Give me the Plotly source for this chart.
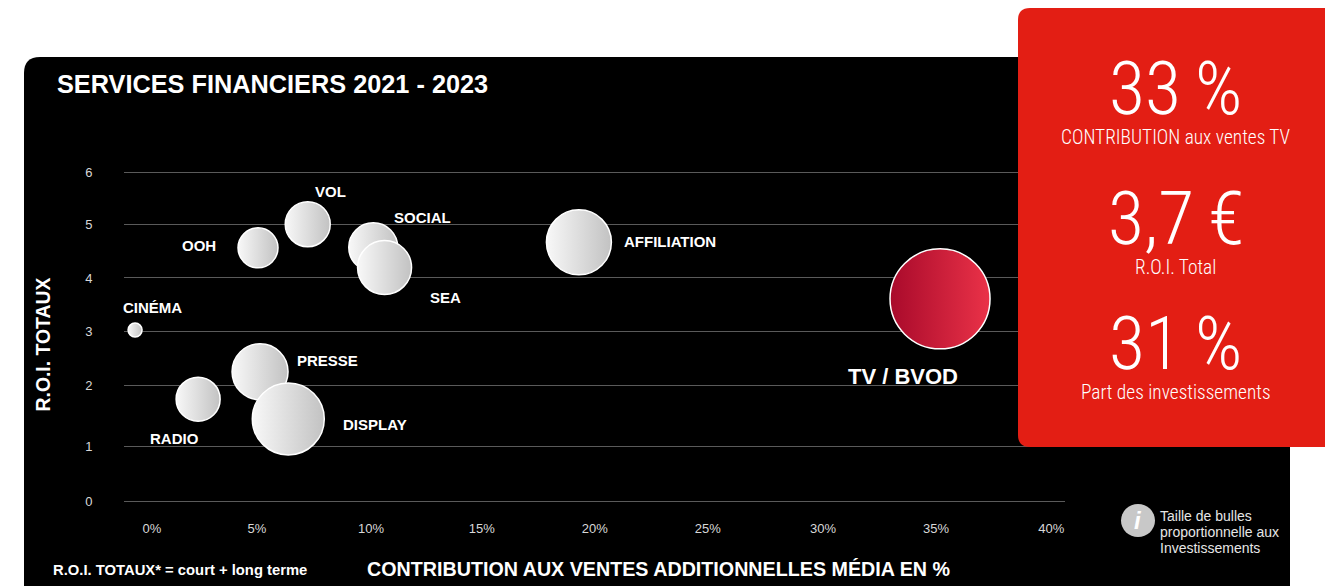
import plotly.graph_objects as go

W, H = 1325, 586

# Data
names = ["CINÉMA", "RADIO", "PRESSE", "DISPLAY", "OOH", "VOL", "SOCIAL", "SEA", "AFFILIATION", "TV / BVOD"]
contribution = [-0.44, 2.35, 5.09, 6.34, 5.0, 7.2, 10.1, 10.6, 19.2, 35.18]
roi = [3.13, 1.87, 2.37, 1.51, 4.63, 5.06, 4.64, 4.27, 4.73, 3.70]
bubble_size = [14, 44, 56, 72, 40, 45, 49, 54, 65, 100]

x_tick_pos = [0.3, 4.95, 10, 14.9, 19.9, 24.9, 30, 35, 40.1]
x_tick_text = ["0%", "5%", "10%", "15%", "20%", "25%", "30%", "35%", "40%"]
y_tick_pos = [0, 1.003, 2.128, 3.10, 4.08, 5.05, 6]
y_tick_text = ["0", "1", "2", "3", "4", "5", "6"]

kpi_big = ["33\u2009%", "3,7\u2009€", "31\u2009%"]
kpi_small = ["CONTRIBUTION aux ventes TV", "R.O.I. Total", "Part des investissements"]


def px(x):
    return x / W


def py(y):
    return 1 - y / H


def rounded(x0, y0, x1, y1, r):
    d = f"M {px(x0 + r)} {py(y0)} L {px(x1 - r)} {py(y0)} "
    d += f"Q {px(x1)} {py(y0)} {px(x1)} {py(y0 + r)} L {px(x1)} {py(y1 - r)} "
    d += f"Q {px(x1)} {py(y1)} {px(x1 - r)} {py(y1)} L {px(x0 + r)} {py(y1)} "
    d += f"Q {px(x0)} {py(y1)} {px(x0)} {py(y1 - r)} L {px(x0)} {py(y0 + r)} "
    d += f"Q {px(x0)} {py(y0)} {px(x0 + r)} {py(y0)} Z"
    return d


fig = go.Figure()
left_cols = ["#f8f8f8"] * 9 + ["#a90a2b"]
right_cols = ["#c2c2c2"] * 9 + ["#ea3248"]
fig.add_trace(go.Scatter(
    x=contribution, y=roi, mode="markers", text=names, hoverinfo="text",
    marker=dict(
        size=bubble_size, sizemode="diameter", color=left_cols,
        gradient=dict(type="horizontal", color=right_cols),
        line=dict(color="#ffffff", width=1.5), opacity=1,
    ),
    showlegend=False,
))

AR = "Liberation Sans"
NARROW = "Roboto Condensed, Roboto"


def note(text, x, y, size, color="#ffffff", bold=True, font=AR, anchor="center", angle=0, weight=None):
    f = dict(family=font, size=size, color=color)
    if weight:
        f["weight"] = weight
    fig.add_annotation(
        text=f"<b>{text}</b>" if bold else text, xref="paper", yref="paper",
        x=px(x), y=py(y), xanchor=anchor, yanchor="middle", showarrow=False, textangle=angle,
        font=f,
    )


note("SERVICES FINANCIERS 2021 - 2023", 55, 84, 25.3, anchor="left")
note("R.O.I. TOTAUX", 42, 344.5, 19.4, angle=-90)
note("CONTRIBUTION AUX VENTES ADDITIONNELLES MÉDIA EN %", 658.5, 569, 19.7)
note("R.O.I. TOTAUX* = court + long terme", 51, 570, 14.8, anchor="left")

label_xy = [(152, 307), (174, 438), (327, 360.5), (375, 424.5), (199, 245.5), (330, 191), (422, 217), (445, 297), (670, 242), (903, 376.5)]
for name, (lx, ly) in zip(names, label_xy):
    note(name, lx, ly, 22 if name.startswith("TV") else 15)

for t, y in zip(kpi_big, [88, 218, 343]):
    note(t, 1175.5, y, 74, bold=False, font=NARROW, weight=300)
for t, y in zip(kpi_small, [138, 267, 392]):
    note(t, 1175.5, y, 19.4, bold=False, font=NARROW, weight=300)

for t, y in zip(["Taille de bulles", "proportionnelle aux", "Investissements"], [516, 532, 548]):
    note(t, 1158, y, 14, bold=False, anchor="left", color="#e6e6e6")
note("<i>i</i>", 1138, 520, 24, color="#ffffff")

fig.update_layout(
    width=W, height=H, margin=dict(l=0, r=0, t=0, b=0), autosize=False,
    paper_bgcolor="#ffffff", plot_bgcolor="rgba(0,0,0,0)",
    font=dict(family=AR),
    xaxis=dict(
        domain=[px(124), px(1065)], range=[-0.93, 40.71], tickmode="array",
        tickvals=x_tick_pos, ticktext=x_tick_text, showgrid=False, zeroline=False,
        showline=False, ticks="outside", ticklen=4, tickcolor="rgba(0,0,0,0)",
        tickfont=dict(size=13, color="#d8d8d8"),
    ),
    yaxis=dict(
        domain=[py(512.67), py(161.73)], range=[-0.2, 6.2], tickmode="array",
        tickvals=y_tick_pos, ticktext=y_tick_text, showgrid=True, gridcolor="#5a5a5a",
        gridwidth=1, zeroline=False, showline=False, ticks="outside", ticklen=28,
        tickcolor="rgba(0,0,0,0)", tickfont=dict(size=13, color="#d8d8d8"),
    ),
    shapes=[
        dict(type="path", xref="paper", yref="paper", layer="below", line_width=0,
             fillcolor="#000000", path=rounded(24, 57, 1290, 620, 16)),
        dict(type="path", xref="paper", yref="paper", layer="above", line_width=0,
             fillcolor="#e31e14", path=rounded(1018, 8, 1345, 447, 12)),
        dict(type="circle", xref="paper", yref="paper", layer="above",
             x0=px(1121), x1=px(1155), y0=py(537), y1=py(504), fillcolor="#c8c8c8", line_width=0),
    ],
)

fig.write_html("out.html", config={"displayModeBar": False}, post_script="document.body.style.margin='0';")
